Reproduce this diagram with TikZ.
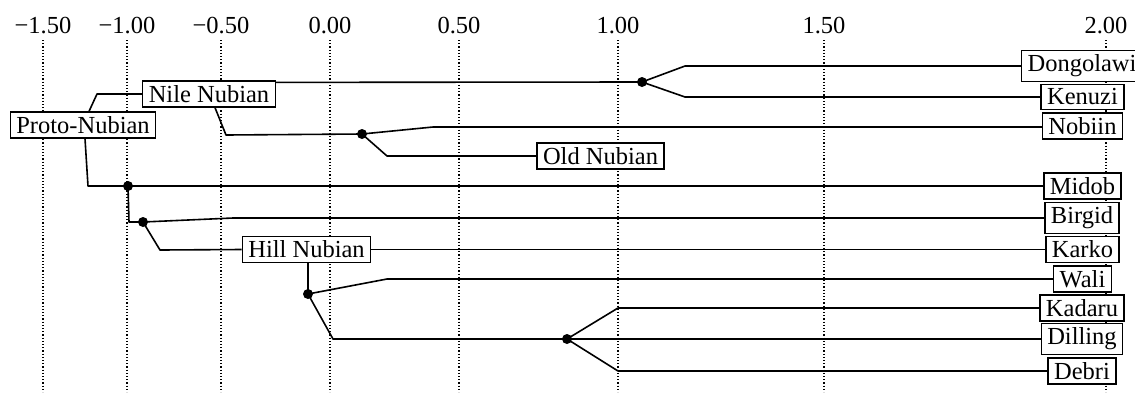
\documentclass[tikz,border=0pt]{standalone}
\usepackage{fontspec}
\setmainfont{Liberation Serif}
\begin{document}
\begin{tikzpicture}[x=1pt,y=-1pt,
  lbl/.style={draw,line width=1.4pt,fill=white,font=\fontsize{24.5}{28}\selectfont,inner xsep=6pt,inner ysep=4.3pt},
  leaf/.style={lbl},
  br/.style={line width=1.6pt,line join=round},
  grid/.style={line width=1.1pt,dash pattern=on 1.2pt off 2pt},
  tick/.style={font=\fontsize{24.5}{28}\selectfont,anchor=base},
  dot/.style={circle,fill=black,inner sep=0pt,minimum size=10pt}]
\useasboundingbox (0,0) rectangle (1135,392);
\clip (0,0) rectangle (1135,392);
% grid and ticks
\foreach \x/\t in {43/−1.50,127/−1.00,221/−0.50,330/0.00,459/0.50,618/1.00,824/1.50,1106/2.00}{
  \draw[grid] (\x,40) -- (\x,392);
  \node[tick] at (\x,33) {\t};
}
% dots
\node[dot] (A) at (642,82) {};
\node[dot] (B) at (362,134) {};
\node[dot] (C) at (128,186) {};
\node[dot] (D) at (143,222) {};
\node[dot] (E) at (308,294) {};
\node[dot] (F) at (567,339) {};
% internal labels
\node[lbl] (proto) at (83,125) {Proto-Nubian};
\node[lbl] (nile) at (209,94) {Nile Nubian};
\node[lbl] (old) at (600.5,156) {Old Nubian};
\node[lbl] (hill) at (306.5,249.5) {Hill Nubian};
% leaves
\node[leaf] (dongolawi) at (1082,66) {Dongolawi};
\node[leaf] (kenuzi) at (1082.5,97) {Kenuzi};
\node[leaf] (nobiin) at (1082.5,126) {Nobiin};
\node[leaf] (midob) at (1082.5,186) {Midob};
\node[leaf] (birgid) at (1082,218) {Birgid};
\node[leaf] (karko) at (1082.5,249.5) {Karko};
\node[leaf] (wali) at (1082.5,279) {Wali};
\node[leaf] (kadaru) at (1082,308) {Kadaru};
\node[leaf] (dilling) at (1082,339) {Dilling};
\node[leaf] (debri) at (1082,371) {Debri};
% branches
\begin{scope}[on background layer/.style={}]
\draw[br] ([xshift=6pt]proto.north) -- (97,94) -- (nile.west);
\draw[br] ([yshift=-2pt]nile.north east) -- (A.center);
\draw[br] (A.center) -- (685,66) -- (dongolawi.west);
\draw[br] (A.center) -- (685,97) -- (kenuzi.west);
\draw[br] ([xshift=6pt]nile.south) -- (226,135) -- (B.center);
\draw[br] (B.center) -- (433,127) -- (nobiin.west |- 0,127);
\draw[br] (B.center) -- (387,156) -- (old.west);
\draw[br] ([xshift=2pt]proto.south) -- (88,186) -- (C.center) -- (midob.west);
\draw[br] (C.center) -- (129,222) -- (D.center);
\draw[br] (D.center) -- (233,218) -- (birgid.west);
\draw[br] (D.center) -- (160,250) -- (hill.west);
\draw[br] (hill.east) -- (karko.west);
\draw[br] ([xshift=1.5pt]hill.south) -- (E.center);
\draw[br] (E.center) -- (387,279) -- (wali.west);
\draw[br] (E.center) -- (333,339) -- (F.center);
\draw[br] (F.center) -- (618,308) -- (kadaru.west);
\draw[br] (F.center) -- (dilling.west);
\draw[br] (F.center) -- (618,371) -- (debri.west);
\end{scope}
\end{tikzpicture}
\end{document}
